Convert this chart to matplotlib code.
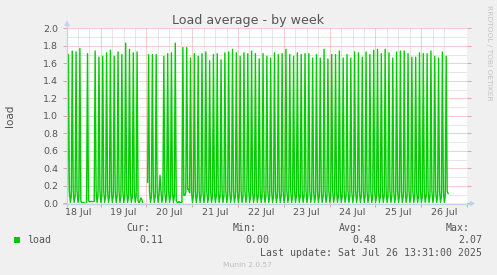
import numpy as np
import matplotlib
matplotlib.use("Agg")
import matplotlib.pyplot as plt
from matplotlib.patches import Rectangle, Polygon

W, H = 497, 275
nan = float('nan')

# ---- data: 30-minute averages, one 2-hour cycle per row (rise, peak, fall, low)
load = [
    0.08, 1.70, 0.14, 0.01,
    0.08, 1.74, 0.14, 0.01,
    0.08, 1.73, 0.14, 0.01,
    0.08, 1.77, 0.03, 0.00,
    0.01, 0.01, 0.00, 0.00,
    0.00, 1.71, 0.03, 0.02,
    0.02, 0.02, 0.02, 0.02,
    0.02, 1.74, 0.14, 0.01,
    0.08, 1.67, 0.14, 0.01,
    0.08, 1.68, 0.14, 0.01,
    0.08, 1.72, 0.14, 0.01,
    0.08, 1.75, 0.14, 0.01,
    0.08, 1.68, 0.14, 0.01,
    0.08, 1.73, 0.14, 0.01,
    0.08, 1.70, 0.14, 0.01,
    0.08, 1.83, 0.14, 0.01,
    0.08, 1.76, 0.14, 0.01,
    0.08, 1.72, 0.14, 0.01,
    0.08, 1.73, 0.03, 0.00,
    0.03, 0.06, 0.04, 0.00,
    nan,  nan,  nan,  nan,
    0.24, 1.70, 0.14, 0.01,
    0.08, 1.70, 0.14, 0.01,
    0.08, 1.70, 0.14, 0.01,
    0.10, 0.32, 0.14, 0.01,
    0.08, 1.68, 0.14, 0.01,
    0.08, 1.71, 0.14, 0.01,
    0.08, 1.72, 0.14, 0.01,
    0.08, 1.83, 0.03, 0.01,
    0.01, 0.02, 0.01, 0.01,
    0.01, 1.78, 0.09, 0.09,
    0.12, 1.78, 0.16, 0.16,
    0.12, 1.66, 0.14, 0.01,
    0.08, 1.71, 0.14, 0.01,
    0.08, 1.68, 0.14, 0.01,
    0.08, 1.71, 0.14, 0.01,
    0.08, 1.73, 0.14, 0.01,
    0.08, 1.63, 0.14, 0.01,
    0.08, 1.70, 0.14, 0.01,
    0.08, 1.71, 0.14, 0.01,
    0.08, 1.64, 0.14, 0.01,
    0.08, 1.72, 0.14, 0.01,
    0.08, 1.73, 0.14, 0.01,
    0.08, 1.76, 0.14, 0.01,
    0.08, 1.72, 0.14, 0.01,
    0.08, 1.68, 0.14, 0.01,
    0.08, 1.72, 0.14, 0.01,
    0.08, 1.71, 0.14, 0.01,
    0.08, 1.74, 0.14, 0.01,
    0.08, 1.71, 0.14, 0.01,
    0.08, 1.65, 0.14, 0.01,
    0.08, 1.71, 0.14, 0.01,
    0.08, 1.68, 0.14, 0.01,
    0.08, 1.66, 0.14, 0.01,
    0.08, 1.72, 0.14, 0.01,
    0.08, 1.70, 0.14, 0.01,
    0.08, 1.71, 0.14, 0.01,
    0.08, 1.76, 0.14, 0.01,
    0.08, 1.70, 0.14, 0.01,
    0.08, 1.68, 0.14, 0.01,
    0.08, 1.72, 0.14, 0.01,
    0.08, 1.70, 0.14, 0.01,
    0.08, 1.71, 0.14, 0.01,
    0.08, 1.71, 0.14, 0.01,
    0.08, 1.66, 0.14, 0.01,
    0.08, 1.70, 0.14, 0.01,
    0.08, 1.66, 0.14, 0.01,
    0.08, 1.76, 0.14, 0.01,
    0.08, 1.65, 0.14, 0.01,
    0.08, 1.70, 0.14, 0.01,
    0.08, 1.70, 0.14, 0.01,
    0.08, 1.74, 0.14, 0.01,
    0.08, 1.66, 0.14, 0.01,
    0.08, 1.70, 0.14, 0.01,
    0.08, 1.66, 0.14, 0.01,
    0.08, 1.73, 0.14, 0.01,
    0.08, 1.72, 0.14, 0.01,
    0.08, 1.67, 0.14, 0.01,
    0.08, 1.73, 0.14, 0.01,
    0.08, 1.70, 0.14, 0.01,
    0.08, 1.75, 0.14, 0.01,
    0.08, 1.76, 0.14, 0.01,
    0.08, 1.71, 0.14, 0.01,
    0.08, 1.76, 0.14, 0.01,
    0.08, 1.72, 0.14, 0.01,
    0.08, 1.66, 0.14, 0.01,
    0.08, 1.73, 0.14, 0.01,
    0.08, 1.74, 0.14, 0.01,
    0.08, 1.74, 0.14, 0.01,
    0.08, 1.71, 0.14, 0.01,
    0.08, 1.67, 0.14, 0.01,
    0.08, 1.67, 0.14, 0.01,
    0.08, 1.72, 0.14, 0.01,
    0.08, 1.71, 0.14, 0.01,
    0.08, 1.71, 0.14, 0.01,
    0.08, 1.74, 0.14, 0.01,
    0.08, 1.68, 0.14, 0.01,
    0.08, 1.66, 0.14, 0.01,
    0.08, 1.73, 0.14, 0.01,
    0.08, 1.68, 0.14, 0.11,
]
start_hour = 6.35          # hours after 18 Jul 00:00 at the plot's left edge
step_hour = 0.5            # 30-minute resolution
span_hours = 200.0
day_labels = ['18 Jul', '19 Jul', '20 Jul', '21 Jul', '22 Jul',
              '23 Jul', '24 Jul', '25 Jul', '26 Jul']
label_hours = [12, 36, 60, 84, 108, 132, 156, 180, 204]
y_ticks = [0.0, 0.2, 0.4, 0.6, 0.8, 1.0, 1.2, 1.4, 1.6, 1.8, 2.0]
title = 'Load average - by week'
ylabel = 'load'
series_name = 'load'
stat_names = ['Cur:', 'Min:', 'Avg:', 'Max:']
stat_values = ['0.11', '0.00', '0.48', '2.07']
last_update = 'Last update: Sat Jul 26 13:31:00 2025'
footer = 'Munin 2.0.57'
watermark = 'RRDTOOL / TOBI OETIKER'

# ---- styles
BG = '#F0F0F0'
GREEN = '#00CC00'
FONT = '#555555'
GRID = '#CFCFCF'
MGRID = '#E8A0A0'
AXIS = '#C8CEF0'

def fx(x):
    return x / W

def fy(y):
    return 1 - y / H

fig = plt.figure(figsize=(W / 100, H / 100), dpi=100, facecolor=BG)
ax = fig.add_axes([fx(67), fy(203.3), 400 / W, 175 / H])
ax.set_facecolor('white')
ax.set_xlim(start_hour, start_hour + span_hours)
ax.set_ylim(0, 2.0)
for s in ax.spines.values():
    s.set_visible(False)

dot = (0, (1, 1))
# horizontal grid
for v in np.arange(0.1, 2.01, 0.1):
    major = abs(round(v / 0.2) * 0.2 - v) < 1e-6
    ax.axhline(v, color=MGRID if major else GRID, lw=0.72, ls=dot, zorder=1)
# vertical grid
for h in np.arange(6, 220, 6):
    if start_hour < h < start_hour + span_hours:
        ax.axvline(h, color=MGRID if h % 24 == 0 else GRID, lw=0.72, ls=dot, zorder=1)

t = start_hour + step_hour * (np.arange(len(load)) + 0.5)
ax.plot(t, np.array(load, dtype=float), color=GREEN, lw=1.0, zorder=3)

# ticks
ax.set_yticks(y_ticks)
ax.set_yticklabels(['%.1f' % v for v in y_ticks])
ax.tick_params(axis='y', which='major', length=3, width=0.72, color=MGRID,
               labelsize=6.8, labelcolor=FONT, pad=3.2, right=True, direction='out')
ax.set_xticks(label_hours)
ax.set_xticklabels(day_labels)
ax.set_xticks([h for h in range(24, 220, 24)], minor=True)
ax.tick_params(axis='x', which='major', length=0, labelsize=6.8, labelcolor=FONT, pad=3.5)
ax.tick_params(axis='x', which='minor', length=3, width=0.72, color=MGRID, direction='out')

# axis lines and arrows
fig.add_artist(plt.Line2D([fx(63), fx(471)], [fy(203.5), fy(203.5)], color=AXIS, lw=0.9))
fig.add_artist(plt.Line2D([fx(67), fx(67)], [fy(207), fy(25)], color=AXIS, lw=0.9))
fig.add_artist(Polygon([[fx(470), fy(200.5)], [fx(475), fy(203.5)], [fx(470), fy(206.5)]],
                       closed=True, transform=fig.transFigure, color=AXIS, lw=0))
fig.add_artist(Polygon([[fx(64), fy(26)], [fx(67), fy(20.5)], [fx(70), fy(26)]],
                       closed=True, transform=fig.transFigure, color=AXIS, lw=0))

# texts
fig.text(0.5, fy(24), title, ha='center', va='baseline', fontsize=9.1, color=FONT)
fig.text(fx(10), fy(116), ylabel, ha='center', va='center', rotation=90,
         fontsize=7.5, color=FONT)
fig.text(fx(489), fy(53), watermark, ha='center', va='center', rotation=270,
         fontsize=5.4, color='#C4C4C4')

mono = 'DejaVu Sans Mono'
fs = 7.1
fig.add_artist(Rectangle((fx(14), fy(243.3)), 6 / W, 6 / H, transform=fig.transFigure,
                         facecolor=GREEN, edgecolor='none'))
fig.text(fx(27), fy(243.3), series_name, family=mono, fontsize=fs, color=FONT, va='baseline')
name_right = [150, 257, 363, 470]
val_right = [163, 269, 376, 482]
for n, xr in zip(stat_names, name_right):
    fig.text(fx(xr), fy(231), n, family=mono, fontsize=fs, color=FONT, ha='right', va='baseline')
for v, xr in zip(stat_values, val_right):
    fig.text(fx(xr), fy(243.3), v, family=mono, fontsize=fs, color=FONT, ha='right', va='baseline')
fig.text(fx(482), fy(255.7), last_update, family=mono, fontsize=fs, color=FONT,
         ha='right', va='baseline')
fig.text(fx(247.5), fy(266.7), footer, fontsize=5.4, color='#BDBDBD', ha='center', va='baseline')

fig.savefig('out.png', dpi=100, facecolor=BG)
